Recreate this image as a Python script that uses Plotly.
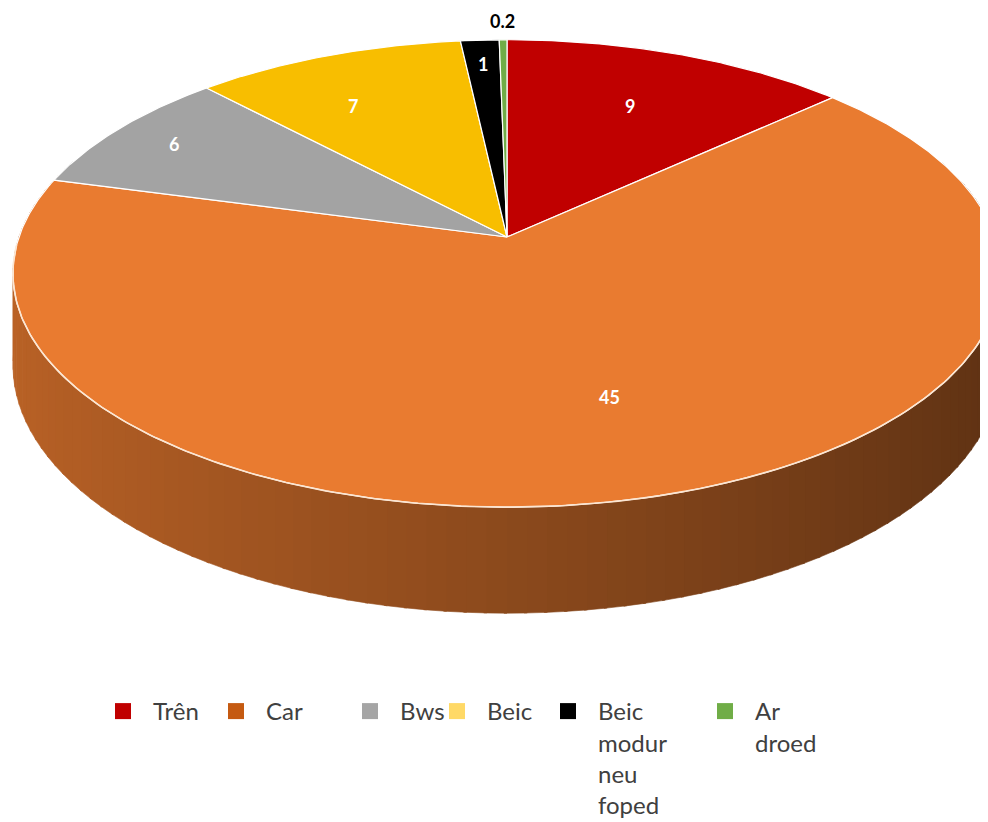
import numpy as np
import plotly.graph_objects as go

# ---- data ----
categories = ["Trên", "Car", "Bws", "Beic", "Beic modur neu foped", "Ar droed"]
values = [9, 45, 6, 7, 1, 0.2]

# ---- style ----
top_colors = ["#C00000", "#E97B30", "#A3A3A3", "#F8BE00", "#000000", "#70AD47"]
legend_colors = ["#C00000", "#C55A11", "#A5A5A5", "#FFD966", "#000000", "#70AD47"]
label_colors = ["white", "white", "white", "white", "white", "black"]
label_radius = [0.69, 0.66, 0.85, 0.72, 0.86, 1.11]
label_angle_adj = [0, -3, 0, -4, 0, 0]
legend_symbol_x = [123, 236, 370, 457, 568, 725]   # legend key centres (px)

OFF = 8                # page body margin of the html page
W, H = 988, 822        # window size
CX, CY = 507, 237      # apex of the pie (window pixels)
RX, RY = 488, 228      # radii
K = 0.156              # perspective factor
DEPTH = 89.5           # thickness


def proj(theta_deg, f=1.0, drop=0.0):
    t = np.radians(theta_deg)
    u = f * np.sin(t)
    v = f * np.cos(t)
    den = 1 + K * v
    x = CX + RX * u / den
    y = CY - RY * v / den + drop / den
    return x, y


def shade(hexcol, factor):
    h = hexcol.lstrip("#")
    r, g, b = (int(h[i:i + 2], 16) for i in (0, 2, 4))
    return "rgb({},{},{})".format(int(r * factor), int(g * factor), int(b * factor))


total = float(sum(values))
bounds = np.concatenate([[0.0], np.cumsum(values) / total * 360.0])

fig = go.Figure()

# ---- side wall (front part) ----
step = 2.0
for a in np.arange(70.0, 290.0, step):
    b = a + step
    mid = (a + b) / 2
    idx = int(np.searchsorted(bounds, mid, side="right") - 1)
    idx = min(max(idx, 0), len(values) - 1)
    ts = np.linspace(a, b + 0.3, 4)
    xt, yt = proj(ts)
    xb, yb = proj(ts[::-1], drop=DEPTH)
    fac = 0.6 - 0.2 * np.sin(np.radians(mid))
    col = shade(top_colors[idx], fac)
    fig.add_trace(go.Scatter(
        x=np.concatenate([xt, xb]), y=np.concatenate([yt, yb]),
        mode="lines", fill="toself", fillcolor=col,
        line=dict(width=0.6, color=col),
        showlegend=False, hoverinfo="skip"))

# ---- top surface slices ----
for i, (name, val) in enumerate(zip(categories, values)):
    a, b = bounds[i], bounds[i + 1]
    n = max(int((b - a) * 2), 4)
    ts = np.linspace(a, b, n)
    xr, yr = proj(ts)
    xs = np.concatenate([[CX], xr, [CX]])
    ys = np.concatenate([[CY], yr, [CY]])
    fig.add_trace(go.Scatter(
        x=xs, y=ys, mode="lines", fill="toself",
        fillcolor=top_colors[i], line=dict(width=1.2, color="white"),
        showlegend=False, hoverinfo="skip"))

# ---- light rim highlight on the front edge ----
tr = np.linspace(95, 268, 200)
xr, yr = proj(tr)
fig.add_trace(go.Scatter(x=xr, y=yr, mode="lines",
                         line=dict(width=1.6, color="#FCE6D2"),
                         showlegend=False, hoverinfo="skip"))

# ---- data labels ----
for i, val in enumerate(values):
    mid = (bounds[i] + bounds[i + 1]) / 2 + label_angle_adj[i]
    lx, ly = proj(mid, f=label_radius[i])
    fig.add_annotation(x=lx, y=ly, text="<b>{:g}</b>".format(val),
                       showarrow=False,
                       font=dict(family="Lato, Open Sans, sans-serif",
                                 size=18, color=label_colors[i]))

FW, FH = W - OFF, H - OFF

# ---- legend entries (one small legend per entry, as in the source layout) ----
legend_layouts = {}
for i, name in enumerate(categories):
    key = "legend" if i == 0 else "legend{}".format(i + 1)
    fig.add_trace(go.Scatter(
        x=[None], y=[None], mode="markers",
        marker=dict(symbol="square", size=19, color=legend_colors[i]),
        name=name.replace(" ", "<br>"), showlegend=True, legend=key))
    legend_layouts[key] = dict(
        orientation="v",
        x=(legend_symbol_x[i] - 30 - OFF) / FW, y=1 - (689 - OFF) / FH,
        xanchor="left", yanchor="top", valign="top",
        itemwidth=50,
        font=dict(family="Lato, Open Sans, sans-serif", size=24, color="#404040"),
        bgcolor="rgba(0,0,0,0)")

fig.update_layout(
    width=FW, height=FH,
    margin=dict(l=0, r=0, t=0, b=0, autoexpand=False),
    paper_bgcolor="white", plot_bgcolor="white",
    xaxis=dict(range=[OFF, W], visible=False, fixedrange=True),
    yaxis=dict(range=[H, OFF], visible=False, fixedrange=True),
    showlegend=True,
    **legend_layouts,
)

fig.write_html("out.html")
